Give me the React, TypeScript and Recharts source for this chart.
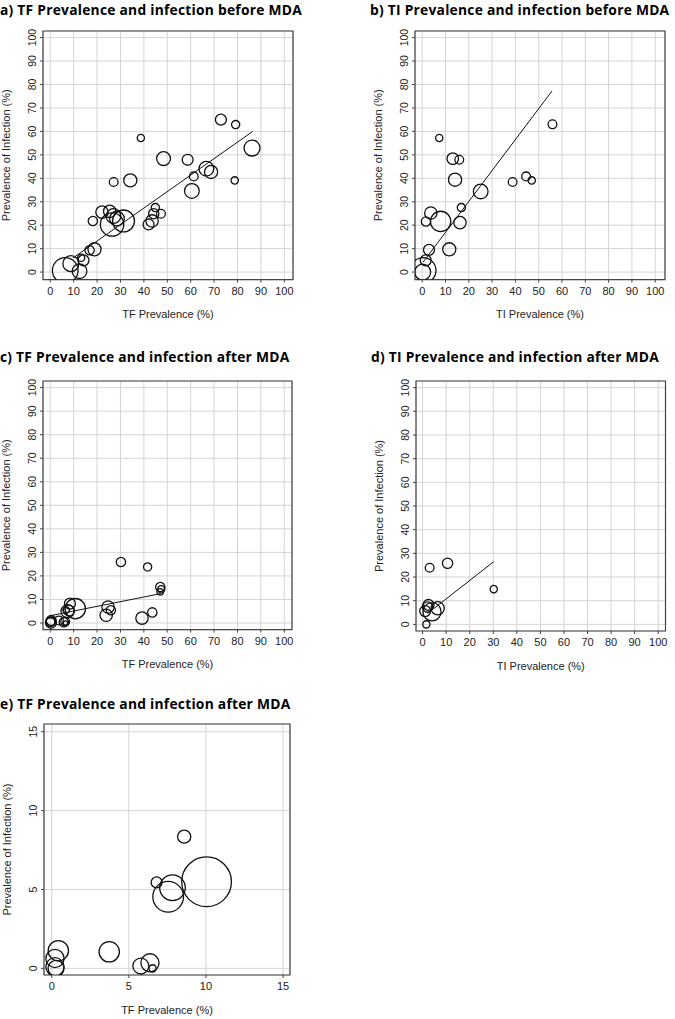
import React from 'react';
import {
  ScatterChart,
  Scatter,
  XAxis,
  YAxis,
  ZAxis,
  CartesianGrid,
  ReferenceLine,
  ReferenceArea,
} from 'recharts';

// ---------- data ----------
// a) TF prevalence vs infection, before MDA
const aTF = [6.4, 8.8, 12.5, 13.2, 14.2, 16.8, 18.9, 18.2, 22.1, 25.4, 26.4, 27.0, 28.5, 31.3, 27.1, 34.2, 38.7, 48.4, 42.0, 43.5, 44.2, 44.9, 47.3, 58.7, 60.5, 61.3, 66.7, 68.7, 72.9, 79.2, 78.8, 86.2];
const aInf = [0.7, 3.6, 0.4, 6.1, 5.0, 9.3, 9.7, 21.8, 25.6, 25.9, 20.3, 23.9, 22.8, 21.8, 38.4, 39.1, 57.2, 48.4, 20.3, 21.8, 24.9, 27.5, 24.9, 47.9, 34.6, 40.8, 44.1, 42.7, 65.0, 62.9, 39.1, 52.9];
const aN = [137, 53, 45, 11, 25, 18, 36, 18, 32, 32, 114, 45, 45, 100, 16, 36, 11, 40, 25, 32, 22, 14, 16, 25, 45, 16, 45, 36, 25, 14, 11, 53];
const aFitX = [9.7, 86.5];
const aFitY = [6.0, 60.0];

// b) TI prevalence vs infection, before MDA
const bTI = [0.4, 0.2, 1.5, 2.9, 1.6, 3.7, 7.9, 11.6, 13.1, 15.9, 14.1, 16.2, 16.8, 25.1, 38.8, 44.6, 47.0, 55.9, 7.3];
const bInf = [0.7, 0.0, 5.0, 9.5, 21.6, 25.2, 21.6, 9.7, 48.4, 47.9, 39.4, 21.1, 27.5, 34.4, 38.4, 40.8, 39.1, 63.0, 57.2];
const bN = [137, 53, 25, 25, 18, 32, 86, 36, 28, 16, 36, 32, 14, 45, 16, 16, 11, 16, 11];
const bFitX = [0.4, 55.7];
const bFitY = [4.3, 77.2];

// c) TF prevalence vs infection, after MDA
const cTF = [0.4, 0.2, 0.3, 0.1, 3.7, 5.8, 6.4, 6.5, 6.8, 7.4, 8.0, 8.4, 10.7, 24.7, 23.9, 25.9, 30.2, 41.6, 39.2, 43.6, 47.0, 47.4, 47.0];
const cInf = [1.1, 0.6, 0.1, 0.3, 1.1, 0.3, 0.6, 0.0, 5.5, 5.0, 5.3, 8.2, 6.1, 6.8, 3.3, 5.4, 25.9, 23.8, 2.1, 4.5, 15.3, 14.3, 13.2];
const cN = [20, 20, 25, 16, 16, 18, 16, 4, 9, 36, 25, 25, 86, 32, 32, 18, 18, 14, 32, 18, 18, 11, 9];
const cFitX = [0, 47.3];
const cFitY = [3.1, 12.5];

// d) TI prevalence vs infection, after MDA
const dTI = [1.6, 1.1, 2.5, 2.1, 4.0, 6.4, 3.0, 10.6, 30.2];
const dInf = [0.0, 5.6, 8.2, 7.3, 5.3, 6.8, 23.9, 25.8, 14.9];
const dN = [11, 25, 25, 22, 69, 36, 16, 22, 11];
const dFitX = [2.1, 30.2];
const dFitY = [4.6, 26.5];

// e) TF prevalence vs infection, after MDA (zoomed 0-15)
const eTF = [0.43, 0.21, 0.21, 0.28, 3.73, 5.78, 6.37, 6.54, 6.80, 7.55, 7.83, 8.59, 10.04];
const eInf = [1.12, 0.63, 0.10, 0.0, 1.05, 0.15, 0.35, 0.0, 5.45, 4.54, 5.11, 8.35, 5.49];
const eN = [86, 69, 69, 53, 86, 53, 69, 11, 25, 196, 137, 36, 515];

const ticks100 = [0, 10, 20, 30, 40, 50, 60, 70, 80, 90, 100];
const ticks15 = [0, 5, 10, 15];

const titles = [
  'a) TF Prevalence and infection before MDA',
  'b) TI Prevalence and infection before MDA',
  'c) TF Prevalence and infection after MDA',
  'd) TI Prevalence and infection after MDA',
  'e) TF Prevalence and infection after MDA',
];
const xTitleTF = 'TF Prevalence (%)';
const xTitleTI = 'TI Prevalence (%)';
const yTitle = 'Prevalence of Infection (%)';

const build = (xs: number[], ys: number[], ns: number[]) =>
  xs.map((x, i) => ({ x, y: ys[i], n: ns[i] }));

// ---------- layout ----------
const FONT = '"Liberation Sans", Arial, sans-serif';
const YW = 43;
const MT = 10;
const MR = 6;
const XH = 50;

type Cfg = {
  l: number;
  t: number;
  w: number;
  h: number;
  xDomain: [number, number];
  yDomain: [number, number];
  ticks: number[];
  data: { x: number; y: number; n: number }[];
  fit?: { x: number[]; y: number[] };
  xTitle: string;
};

const panels: Cfg[] = [
  { l: 42.7, t: 30.7, w: 250, h: 248.6, xDomain: [-3.1, 103.7], yDomain: [-3.2, 102.8], ticks: ticks100, data: build(aTF, aInf, aN), fit: { x: aFitX, y: aFitY }, xTitle: xTitleTF },
  { l: 415, t: 30.7, w: 250, h: 248.6, xDomain: [-3.1, 104.2], yDomain: [-3.2, 102.8], ticks: ticks100, data: build(bTI, bInf, bN), fit: { x: bFitX, y: bFitY }, xTitle: xTitleTI },
  { l: 42.7, t: 380.7, w: 249, h: 248.6, xDomain: [-3.1, 103.3], yDomain: [-2.8, 102.8], ticks: ticks100, data: build(cTF, cInf, cN), fit: { x: cFitX, y: cFitY }, xTitle: xTitleTF },
  { l: 415.5, t: 380.7, w: 249.5, h: 250, xDomain: [-2.8, 103.1], yDomain: [-2.8, 102.8], ticks: ticks100, data: build(dTI, dInf, dN), fit: { x: dFitX, y: dFitY }, xTitle: xTitleTI },
  { l: 44, t: 724, w: 246, h: 251, xDomain: [-0.5, 15.45], yDomain: [-0.42, 15.49], ticks: ticks15, data: build(eTF, eInf, eN), xTitle: xTitleTF },
];

const titlePos = [
  { x: 0, y: 14.8 },
  { x: 370, y: 14.8 },
  { x: 0, y: 361.5 },
  { x: 371, y: 361.5 },
  { x: 0, y: 709 },
];

const RotTick = (props: any) => {
  const { x, y, payload } = props;
  return (
    <text
      x={x}
      y={y}
      dy="0.35em"
      transform={`rotate(-90, ${x}, ${y})`}
      textAnchor="middle"
      fontSize={10.5}
      fill="#222"
      fontFamily={FONT}
    >
      {payload.value}
    </text>
  );
};

function Panel({ cfg }: { cfg: Cfg }) {
  const W = YW + cfg.w + MR;
  const H = MT + cfg.h + XH;
  return (
    <div style={{ position: 'absolute', left: cfg.l - YW, top: cfg.t - MT, width: W, height: H }}>
      <ScatterChart width={W} height={H} margin={{ top: MT, right: MR, bottom: 0, left: 0 }}>
        <CartesianGrid stroke="#d4d4d4" strokeWidth={1} />
        <XAxis
          type="number"
          dataKey="x"
          domain={cfg.xDomain}
          ticks={cfg.ticks}
          allowDataOverflow
          interval={0}
          height={XH}
          tickSize={3}
          tickMargin={4.4}
          axisLine={false}
          tickLine={{ stroke: '#444' }}
          tick={{ fontSize: 11, fill: '#222', fontFamily: FONT }}
          label={{
            value: cfg.xTitle,
            position: 'insideBottom',
            offset: 11.5,
            style: { fontSize: 11, fill: '#222', fontFamily: FONT },
          }}
        />
        <YAxis
          type="number"
          dataKey="y"
          domain={cfg.yDomain}
          ticks={cfg.ticks}
          allowDataOverflow
          interval={0}
          width={YW}
          tickSize={3}
          tickMargin={8}
          axisLine={false}
          tickLine={{ stroke: '#444' }}
          tick={<RotTick />}
          label={{
            value: yTitle,
            angle: -90,
            position: 'insideLeft',
            offset: 6.5,
            style: { textAnchor: 'middle', fontSize: 11, fill: '#222', fontFamily: FONT },
          }}
        />
        <ZAxis type="number" dataKey="n" domain={[0, 600]} range={[0, 600 * Math.PI * 1.2]} />
        <ReferenceArea
          x1={cfg.xDomain[0]}
          x2={cfg.xDomain[1]}
          y1={cfg.yDomain[0]}
          y2={cfg.yDomain[1]}
          fill="none"
          fillOpacity={0}
          stroke="#444"
          strokeWidth={1.2}
          ifOverflow="visible"
        />
        <Scatter data={cfg.data} fill="none" stroke="#111" strokeWidth={1.3} isAnimationActive={false} />
        {cfg.fit && (
          <ReferenceLine
            segment={[
              { x: cfg.fit.x[0], y: cfg.fit.y[0] },
              { x: cfg.fit.x[1], y: cfg.fit.y[1] },
            ]}
            stroke="#111"
            strokeWidth={1}
            ifOverflow="visible"
          />
        )}
      </ScatterChart>
    </div>
  );
}

export default function App() {
  return (
    <div style={{ position: 'absolute', left: 0, top: 0, width: 675, height: 1019, background: '#fff', overflow: 'hidden' }}>
      {panels.map((p, i) => (
        <Panel key={i} cfg={p} />
      ))}
      <svg width={675} height={1019} style={{ position: 'absolute', left: 0, top: 0, pointerEvents: 'none' }}>
        {titles.map((t, i) => (
          <text
            key={i}
            x={titlePos[i].x}
            y={titlePos[i].y}
            fontFamily="'Open Sans', sans-serif"
            fontWeight={700}
            fontSize={13.8}
            letterSpacing={0.25}
            fill="#000"
          >
            {t}
          </text>
        ))}
      </svg>
    </div>
  );
}
